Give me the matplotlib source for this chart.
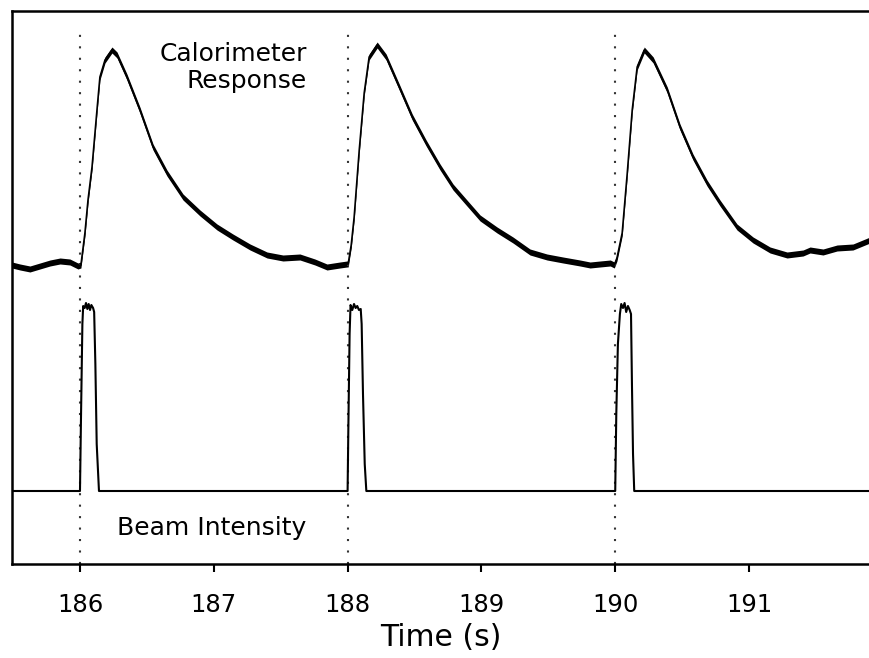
import numpy as np
import matplotlib.pyplot as plt

plt.rcParams['font.family'] = ['DejaVu Sans']

# calorimeter response (time in s, signal in arbitrary units)
cal_t = [185.492, 185.552, 185.626, 185.701, 185.776, 185.851, 185.925, 185.985, 186.007,
         186.037, 186.060, 186.090, 186.127, 186.149, 186.187, 186.239, 186.277, 186.351,
         186.448, 186.546, 186.650, 186.770, 186.897, 187.024, 187.143, 187.271, 187.398,
         187.517, 187.644, 187.756, 187.846, 187.943, 187.996,
         188.004, 188.027, 188.049, 188.087, 188.124, 188.161, 188.221, 188.288, 188.386,
         188.483, 188.587, 188.691, 188.788, 188.892, 188.990, 189.117, 189.236, 189.363,
         189.490, 189.610, 189.737, 189.812, 189.886, 189.963, 189.993,
         190.013, 190.052, 190.090, 190.127, 190.164, 190.217, 190.284, 190.389, 190.484,
         190.581, 190.686, 190.783, 190.910, 191.030, 191.157, 191.284, 191.404, 191.456,
         191.553, 191.658, 191.777, 191.904]
cal_v = [299, 297, 295, 298, 301, 303, 302, 298, 299,
         331, 364, 397, 454, 487, 504, 514, 509, 487,
         454, 417, 391, 367, 351, 337, 327, 317, 309,
         306, 307, 302, 297, 299, 300,
         300, 319, 347, 414, 471, 507, 519, 507, 477,
         447, 421, 397, 377, 361, 346, 334, 324, 312,
         307, 304, 301, 299, 300, 301, 299,
         306, 331, 391, 454, 497, 514, 504, 474, 437,
         407, 381, 361, 337, 324, 314, 309, 311, 314,
         312, 316, 317, 324]

# beam intensity
beam_t = [185.492, 186.000, 186.008, 186.018, 186.024, 186.035, 186.045, 186.055, 186.065,
          186.075, 186.085, 186.098, 186.106, 186.115, 186.125, 186.142,
          188.000, 188.006, 188.015, 188.022, 188.035, 188.048, 188.060, 188.072, 188.085,
          188.098, 188.105, 188.115, 188.128, 188.140,
          190.000, 190.008, 190.020, 190.035, 190.045, 190.058, 190.070, 190.082, 190.095,
          190.108, 190.118, 190.125, 190.133, 190.142, 191.904]
beam_v = [73, 73, 150, 240, 258, 256, 261, 255, 260,
          254, 259, 256, 252, 200, 120, 73,
          73, 140, 230, 259, 254, 260, 256, 258, 254,
          255, 240, 170, 100, 73,
          73, 150, 220, 250, 260, 256, 261, 252, 258,
          254, 250, 180, 110, 73, 73]

pulse_starts = [186, 188, 190]
xticks = [186, 187, 188, 189, 190, 191]

fig = plt.figure(figsize=(8.7, 6.58), dpi=100)
ax = fig.add_axes([12 / 870, 94 / 658, 858 / 870, 553 / 658])

for t0 in pulse_starts:
    ax.axvline(t0, ymin=0, ymax=0.969, color='#333333', lw=1.5, linestyle=(0, (1, 4.5)))

cal_t = np.array(cal_t)
cal_v = np.array(cal_v)
ax.fill_between(cal_t, cal_v - 3, cal_v + 3, color='black', lw=0)
ax.plot(cal_t, cal_v, color='black', lw=1.2)
ax.plot(beam_t, beam_v, color='black', lw=1.5)

# va='baseline' puts the last line's baseline at y
ax.text(187.697, 476, 'Calorimeter\nResponse', ha='right', va='baseline',
        multialignment='right', fontsize=18, linespacing=1.15)
ax.text(186.277, 29, 'Beam Intensity', ha='left', va='baseline', fontsize=18)

ax.set_xlim(185.492, 191.904)
ax.set_ylim(0, 553)
ax.set_xticks(xticks)
ax.set_yticks([])
ax.tick_params(axis='x', direction='out', length=6, width=1.5, labelsize=17.5, pad=15)
ax.set_xlabel('Time (s)', fontsize=21.5, labelpad=4)
for side in ['left', 'top', 'bottom']:
    ax.spines[side].set_linewidth(1.8)
ax.spines['right'].set_visible(False)

fig.savefig('out.png', dpi=100)
